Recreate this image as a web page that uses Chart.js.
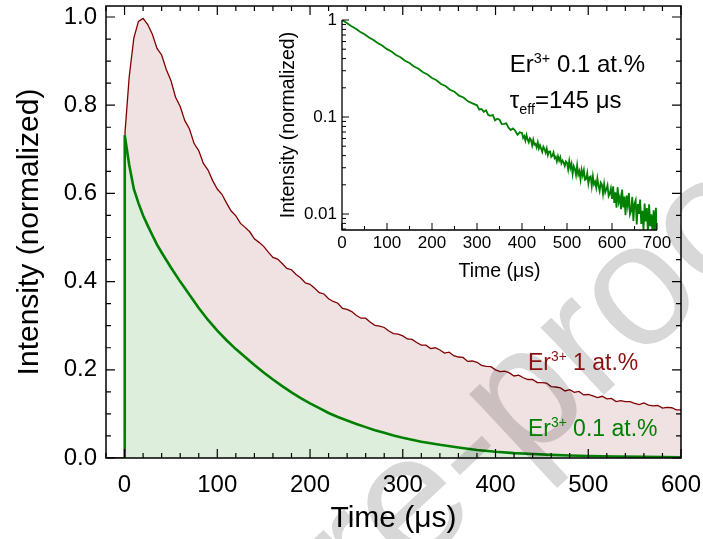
<!DOCTYPE html>
<html>
<head>
<meta charset="utf-8">
<script src="https://cdn.jsdelivr.net/npm/chart.js@4.4.1/dist/chart.umd.min.js"></script>
<style>
  body { margin: 0; background: #fff; }
  #wrap { position: relative; width: 703px; height: 539px; }
  #inset { position: absolute; left: 270px; top: 0; }
</style>
</head>
<body>
<div id="wrap">
  <canvas id="main" width="703" height="539"></canvas>
  <canvas id="inset" width="420" height="300"></canvas>
</div>
<script>
const FONT = '"Liberation Sans", Arial, sans-serif';

// tick labels
const mainXTicks = [0, 100, 200, 300, 400, 500, 600];
const mainYTicks = [0, 0.2, 0.4, 0.6, 0.8, 1.0];
const insetXTicks = [0, 100, 200, 300, 400, 500, 600, 700];
const insetYTicks = [0.01, 0.1, 1];

// Er3+ 1 at.%  [time us, normalized intensity]
const red1 = [
  [-20, 0], [0, 0], [0.5, 0.738], [5, 0.864], [10, 0.952], [15, 0.990], [20, 0.997], [25, 0.983],
  [30, 0.961], [35, 0.929], [40, 0.914], [45, 0.881], [50, 0.856], [55, 0.818], [60, 0.797],
  [65, 0.765], [70, 0.746], [75, 0.713], [80, 0.697], [85, 0.668], [90, 0.653], [95, 0.629],
  [100, 0.610], [105, 0.598], [110, 0.578], [115, 0.560], [120, 0.549], [125, 0.532], [130, 0.523],
  [135, 0.513], [140, 0.497], [145, 0.489], [150, 0.480], [155, 0.467], [160, 0.455], [165, 0.451],
  [170, 0.441], [175, 0.430], [180, 0.427], [185, 0.416], [190, 0.408], [195, 0.397], [200, 0.394],
  [205, 0.385], [210, 0.375], [215, 0.372], [220, 0.361], [225, 0.355], [230, 0.351], [235, 0.339],
  [240, 0.337], [245, 0.332], [250, 0.323], [255, 0.317], [260, 0.317], [265, 0.308], [270, 0.301],
  [275, 0.299], [280, 0.296], [285, 0.288], [290, 0.282], [295, 0.281], [300, 0.277], [305, 0.270],
  [310, 0.269], [315, 0.262], [320, 0.256], [325, 0.256], [330, 0.248], [335, 0.250], [340, 0.245],
  [345, 0.238], [350, 0.240], [355, 0.232], [360, 0.229], [365, 0.228], [370, 0.219], [375, 0.220],
  [380, 0.217], [385, 0.210], [390, 0.208], [395, 0.207], [400, 0.200], [405, 0.196], [410, 0.197],
  [415, 0.193], [420, 0.186], [425, 0.188], [430, 0.182], [435, 0.178], [440, 0.178], [445, 0.171],
  [450, 0.171], [455, 0.170], [460, 0.162], [465, 0.161], [470, 0.159], [475, 0.152], [480, 0.155],
  [485, 0.149], [490, 0.151], [495, 0.143], [500, 0.144], [505, 0.141], [510, 0.137], [515, 0.140],
  [520, 0.134], [525, 0.135], [530, 0.128], [535, 0.130], [540, 0.128], [545, 0.128], [550, 0.124],
  [555, 0.121], [560, 0.125], [565, 0.120], [570, 0.118], [575, 0.119], [580, 0.113], [585, 0.115],
  [590, 0.114], [595, 0.109], [600, 0.109]
];

// Er3+ 0.1 at.%
const green01 = [
  [0, 0], [0.2, 0.732], [5, 0.665], [10, 0.610], [15, 0.578], [20, 0.550], [25, 0.527], [30, 0.505],
  [35, 0.484], [40, 0.466], [45, 0.449], [50, 0.432], [60, 0.400], [70, 0.370], [80, 0.340],
  [90, 0.313], [100, 0.289], [110, 0.267], [120, 0.247], [130, 0.229], [140, 0.211], [150, 0.194],
  [160, 0.178], [170, 0.163], [180, 0.149], [190, 0.136], [200, 0.124], [210, 0.113], [220, 0.102],
  [230, 0.093], [240, 0.085], [250, 0.077], [260, 0.070], [270, 0.063], [280, 0.057], [290, 0.051],
  [300, 0.046], [320, 0.037], [340, 0.030], [360, 0.024], [380, 0.018], [400, 0.014], [420, 0.011],
  [440, 0.009], [460, 0.007], [480, 0.0055], [500, 0.0045], [530, 0.0033], [560, 0.0025], [600, 0.0017]
];

// inset: Er3+ 0.1 at.% on log scale
const insetDecay = [
  [0, 1.0], [10, 0.938], [20, 0.868], [30, 0.818], [40, 0.757], [50, 0.713], [60, 0.660], [70, 0.622],
  [80, 0.575], [90, 0.543], [100, 0.501], [110, 0.474], [120, 0.436], [130, 0.413], [140, 0.380],
  [150, 0.360], [160, 0.331], [170, 0.314], [180, 0.289], [190, 0.274], [200, 0.252], [210, 0.239],
  [220, 0.219], [230, 0.209], [240, 0.191], [250, 0.182], [260, 0.166], [270, 0.159], [280, 0.145],
  [290, 0.138], [300, 0.132], [305, 0.119], [310, 0.121], [315, 0.113], [320, 0.117], [325, 0.105],
  [330, 0.103], [335, 0.105], [340, 0.0925], [345, 0.0960], [350, 0.0936], [355, 0.0844], [360, 0.0849],
  [365, 0.0861], [370, 0.0777], [375, 0.0735], [380, 0.0762], [385, 0.0722], [390, 0.0656], [395, 0.0695],
  [400, 0.0684], [402.5, 0.0609], [405, 0.0636], [407.5, 0.0570], [410, 0.0651], [412.5, 0.0587],
  [415, 0.0547], [417.5, 0.0602], [420, 0.0580], [422.5, 0.0509], [425, 0.0582], [427.5, 0.0519],
  [430, 0.0530], [432.5, 0.0486], [435, 0.0549], [437.5, 0.0474], [440, 0.0511], [442.5, 0.0472],
  [445, 0.0436], [447.5, 0.0494], [450, 0.0467], [452.5, 0.0428], [455, 0.0474], [457.5, 0.0405],
  [460, 0.0441], [462.5, 0.0442], [465, 0.0388], [467.5, 0.0398], [470, 0.0431], [472.5, 0.0377],
  [475, 0.0390], [477.5, 0.0349], [480, 0.0395], [482.5, 0.0356], [485, 0.0385], [487.5, 0.0333],
  [490, 0.0355], [492.5, 0.0339], [495, 0.0312], [497.5, 0.0348], [500, 0.0338], [502.5, 0.0288],
  [505, 0.0352], [507.5, 0.0297], [510, 0.0330], [512.5, 0.0259], [515, 0.0311], [517.5, 0.0291],
  [520, 0.0252], [522.5, 0.0317], [525, 0.0255], [527.5, 0.0277], [530, 0.0227], [532.5, 0.0286],
  [535, 0.0250], [537.5, 0.0284], [540, 0.0225], [542.5, 0.0230], [545, 0.0264], [547.5, 0.0206],
  [550, 0.0239], [552.5, 0.0244], [555, 0.0194], [557.5, 0.0245], [560, 0.0202], [562.5, 0.0215],
  [565, 0.0187], [567.5, 0.0233], [570, 0.0195], [572.5, 0.0173], [575, 0.0211], [577.5, 0.0201],
  [580, 0.0162], [582.5, 0.0204], [585, 0.0167], [587.5, 0.0180], [590, 0.0198], [592.5, 0.0153],
  [595, 0.0162], [597.5, 0.0183], [600, 0.0143], [602.5, 0.0193], [605, 0.0130], [607.5, 0.0167],
  [610, 0.0116], [612.5, 0.0189], [615, 0.0133], [617.5, 0.0149], [620, 0.0112], [622.5, 0.0179],
  [625, 0.0117], [627.5, 0.0151], [630, 0.0097], [632.5, 0.0155], [635, 0.0123], [637.5, 0.0164],
  [640, 0.0099], [642.5, 0.0107], [645, 0.0150], [647.5, 0.0085], [650, 0.0128], [652.5, 0.0139],
  [655, 0.0078], [657.5, 0.0127], [660, 0.0100], [662.5, 0.0141], [665, 0.0079], [667.5, 0.0108],
  [670, 0.0068], [672.5, 0.0128], [675, 0.0084], [677.5, 0.0115], [680, 0.0062], [682.5, 0.0126],
  [685, 0.0075], [687.5, 0.0099], [690, 0.0062], [692.5, 0.0109], [695, 0.0067], [697.5, 0.0116],
  [700, 0.0060]
];

const toPts = arr => arr.map(([x, y]) => ({ x, y }));

function stepValues(min, max, step) {
  const out = [];
  for (let v = Math.ceil(min / step - 1e-9) * step; v <= max + 1e-9; v += step) out.push(+v.toFixed(6));
  return out;
}

// fixed scale box size, no extra label overhang padding
function fixBox(size) {
  return s => {
    if (s.isHorizontal()) s.height = size; else s.width = size;
    s.paddingLeft = 0; s.paddingRight = 0; s.paddingTop = 0; s.paddingBottom = 0;
  };
}

// inward tick marks + frame
const axisTicks = {
  id: 'axisTicks',
  afterDraw(chart, args, o) {
    const { ctx, chartArea: a, scales: { x, y } } = chart;
    ctx.save();
    ctx.strokeStyle = '#000';
    ctx.lineWidth = o.lineWidth;
    ctx.beginPath();
    if (o.box) {
      ctx.rect(a.left, a.top, a.right - a.left, a.bottom - a.top);
    } else {
      ctx.moveTo(a.left, a.top);
      ctx.lineTo(a.left, a.bottom);
      ctx.lineTo(a.right, a.bottom);
    }
    ctx.stroke();

    const isMajor = (list, v) => list.some(t => Math.abs(t - v) < 1e-6);
    const xt = stepValues(x.min, x.max, o.xMinor).map(v => [x.getPixelForValue(v), isMajor(o.xMajor, v)]);
    let yt = [];
    if (o.logY) {
      for (let e = -3; e <= 0; e++) {
        for (let m = 1; m < 10; m++) {
          const v = m * Math.pow(10, e);
          if (v >= y.min && v <= y.max) yt.push([y.getPixelForValue(v), m === 1]);
        }
      }
    } else {
      yt = stepValues(y.min, y.max, o.yMinor).map(v => [y.getPixelForValue(v), isMajor(o.yMajor, v)]);
    }
    ctx.lineWidth = o.tickWidth;
    ctx.beginPath();
    xt.forEach(([p, maj]) => {
      const L = maj ? o.major : o.minor;
      ctx.moveTo(p, a.bottom); ctx.lineTo(p, a.bottom - L);
      if (o.box) { ctx.moveTo(p, a.top); ctx.lineTo(p, a.top + L); }
    });
    yt.forEach(([p, maj]) => {
      const L = maj ? o.major : o.minor;
      ctx.moveTo(a.left, p); ctx.lineTo(a.left + L, p);
      if (o.box) { ctx.moveTo(a.right, p); ctx.lineTo(a.right - L, p); }
    });
    ctx.stroke();
    ctx.restore();
  }
};

function drawRich(ctx, x, y, parts, size, color) {
  ctx.fillStyle = color;
  ctx.textAlign = 'left';
  ctx.textBaseline = 'alphabetic';
  parts.forEach(p => {
    const s = (p.sup || p.sub) ? size * 0.6 : size;
    ctx.font = s + 'px ' + FONT;
    const dy = p.sup ? -size * 0.4 : (p.sub ? size * 0.25 : 0);
    ctx.fillText(p.t, x, y + dy);
    x += ctx.measureText(p.t).width;
  });
}

// text labels placed at data coordinates
const notes = {
  id: 'notes',
  afterDraw(chart, args, o) {
    const { ctx, scales: { x, y } } = chart;
    ctx.save();
    o.items.forEach(it => drawRich(ctx, x.getPixelForValue(it.x), y.getPixelForValue(it.y), it.parts, it.size, it.color));
    ctx.restore();
  }
};

const watermark = {
  id: 'watermark',
  afterDatasetsDraw(chart) {
    const ctx = chart.ctx;
    ctx.save();
    ctx.globalCompositeOperation = 'multiply';
    ctx.fillStyle = 'rgb(216,216,216)';
    ctx.font = '175px ' + FONT;
    ctx.translate(282, 695);
    ctx.rotate(-43 * Math.PI / 180);
    ctx.fillText('Pre-proof', 0, 0);
    ctx.restore();
  }
};

const tickFont = { family: FONT, size: 24 };
const titleFont = { family: FONT, size: 30 };
const noGrid = { display: false, drawTicks: false };

new Chart(document.getElementById('main'), {
  type: 'line',
  data: {
    datasets: [
      {
        label: 'Er3+ 0.1 at.%',
        data: toPts(green01),
        borderColor: '#008000',
        borderWidth: 2.6,
        backgroundColor: 'rgb(221,238,221)',
        fill: 'origin',
        pointRadius: 0
      },
      {
        label: 'Er3+ 1 at.%',
        data: toPts(red1),
        borderColor: '#800000',
        borderWidth: 1.3,
        backgroundColor: 'rgb(240,226,226)',
        fill: 'origin',
        pointRadius: 0
      }
    ]
  },
  options: {
    responsive: false,
    animation: false,
    layout: { padding: { left: 0, right: 22, top: 6, bottom: 0 } },
    plugins: {
      legend: { display: false },
      tooltip: { enabled: false },
      axisTicks: { box: true, lineWidth: 1.5, tickWidth: 1.2, major: 9, minor: 5, xMinor: 20, xMajor: mainXTicks, yMinor: 0.05, yMajor: mainYTicks },
      notes: {
        items: [
          { x: 435, y: 0.2, size: 23, color: '#8b1010', parts: [{ t: 'Er' }, { t: '3+', sup: true }, { t: ' 1 at.%' }] },
          { x: 435, y: 0.05, size: 23, color: '#008000', parts: [{ t: 'Er' }, { t: '3+', sup: true }, { t: ' 0.1 at.%' }] }
        ]
      }
    },
    scales: {
      x: {
        type: 'linear',
        min: -20,
        max: 600,
        afterBuildTicks: s => { s.ticks = mainXTicks.map(v => ({ value: v })); },
        afterFit: fixBox(81),
        grid: noGrid,
        border: { display: false },
        ticks: { font: tickFont, color: '#000', padding: 13, maxRotation: 0 },
        title: { display: true, text: 'Time (μs)', font: titleFont, color: '#000', padding: { top: 0, bottom: 2 } }
      },
      y: {
        min: 0,
        max: 1.025,
        afterBuildTicks: s => { s.ticks = mainYTicks.map(v => ({ value: v })); },
        afterFit: fixBox(106),
        grid: noGrid,
        border: { display: false },
        ticks: { font: tickFont, color: '#000', padding: 9, callback: v => v.toFixed(1) },
        title: { display: true, text: 'Intensity (normalized)', font: titleFont, color: '#000', padding: { top: 12, bottom: 0 } }
      }
    }
  },
  plugins: [axisTicks, watermark, notes]
});

new Chart(document.getElementById('inset'), {
  type: 'line',
  data: {
    datasets: [{
      label: 'Er3+ 0.1 at.%',
      data: toPts(insetDecay),
      borderColor: '#008000',
      borderWidth: 1.8,
      pointRadius: 0,
      fill: false
    }]
  },
  options: {
    responsive: false,
    animation: false,
    layout: { padding: { left: 0, right: 33, top: 20, bottom: 0 } },
    plugins: {
      legend: { display: false },
      tooltip: { enabled: false },
      axisTicks: { box: false, lineWidth: 1.3, tickWidth: 1, major: 7, minor: 4, xMinor: 50, xMajor: insetXTicks, logY: true },
      notes: {
        items: [
          { x: 373, y: 0.288, size: 24, color: '#000', parts: [{ t: 'Er' }, { t: '3+', sup: true }, { t: ' 0.1 at.%' }] },
          { x: 373, y: 0.125, size: 24, color: '#000', parts: [{ t: 'τ' }, { t: 'eff', sub: true }, { t: '=145 μs' }] }
        ]
      }
    },
    scales: {
      x: {
        type: 'linear',
        min: 0,
        max: 700,
        afterBuildTicks: s => { s.ticks = insetXTicks.map(v => ({ value: v })); },
        afterFit: fixBox(70),
        grid: noGrid,
        border: { display: false },
        ticks: { font: { family: FONT, size: 17 }, color: '#000', padding: 3, maxRotation: 0 },
        title: { display: true, text: 'Time (μs)', font: { family: FONT, size: 19.5 }, color: '#000', padding: { top: 0, bottom: 17 } }
      },
      y: {
        type: 'logarithmic',
        min: 0.00684,
        max: 1.0,
        afterBuildTicks: s => { s.ticks = insetYTicks.map(v => ({ value: v })); },
        afterFit: fixBox(72),
        grid: noGrid,
        border: { display: false },
        ticks: { font: { family: FONT, size: 17 }, color: '#000', padding: 5, callback: v => String(v) },
        title: { display: true, text: 'Intensity (normalized)', font: { family: FONT, size: 19.5 }, color: '#000', padding: { top: 7, bottom: 0 } }
      }
    }
  },
  plugins: [axisTicks, notes]
});
</script>
</body>
</html>
